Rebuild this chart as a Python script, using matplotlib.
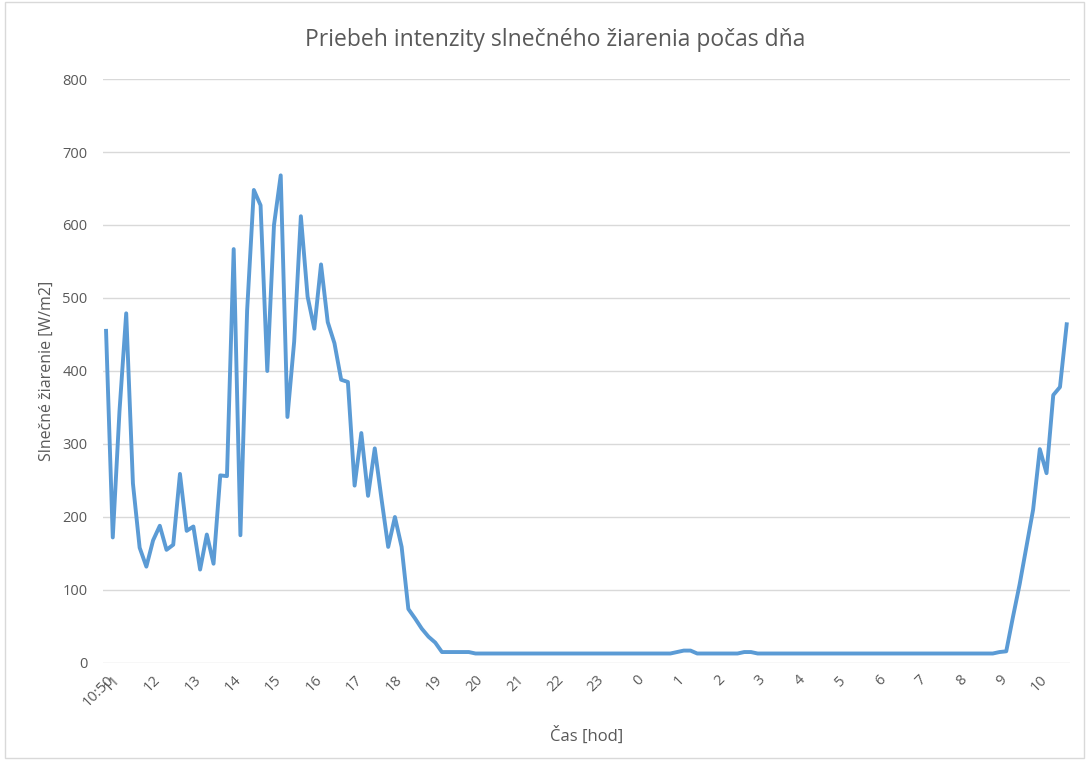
import matplotlib
matplotlib.use("Agg")
import matplotlib.pyplot as plt
from matplotlib.patches import Rectangle
import numpy as np

# ---- data (10-minute samples starting at 10:50) ----
start_hour = 10 + 50 / 60
step_hours = 10 / 60

irradiance = [
    455, 172, 345, 479, 246, 158, 132, 168, 188, 155,
    162, 259, 181, 187, 128, 176, 136, 257, 256, 567,
    175, 483, 648, 627, 400, 600, 668, 337, 440, 612,
    502, 458, 546, 467, 438, 388, 385, 243, 315, 229,
    294, 225, 159, 200, 159, 74, 61, 47, 36, 28,
    15, 15, 15, 15, 15, 13, 13, 13, 13, 13,
    13, 13, 13, 13, 13, 13, 13, 13, 13, 13,
    13, 13, 13, 13, 13, 13, 13, 13, 13, 13,
    13, 13, 13, 13, 13, 15, 17, 17, 13, 13,
    13, 13, 13, 13, 13, 15, 15, 13, 13, 13,
    13, 13, 13, 13, 13, 13, 13, 13, 13, 13,
    13, 13, 13, 13, 13, 13, 13, 13, 13, 13,
    13, 13, 13, 13, 13, 13, 13, 13, 13, 13,
    13, 13, 13, 15, 16, 63, 108, 159, 210, 293,
    260, 367, 378, 464,
]

tick_hours = [start_hour] + list(range(11, 35))
tick_labels = ["10:50"] + [str(h % 24) for h in range(11, 35)]

title = "Priebeh intenzity slnečného žiarenia počas dňa"
xlabel = "Čas [hod]"
ylabel = "Slnečné žiarenie [W/m2]"

# ---- styling ----
plt.rcParams['font.family'] = ['Open Sans', 'DejaVu Sans']
text_color = "#595959"
grid_color = "#d9d9d9"
line_color = "#5b9bd5"

fig = plt.figure(figsize=(10.89, 7.67), dpi=100)
ax = fig.add_axes([0.0943, 0.1356, 0.8883, 0.7614])

times = start_hour + step_hours * np.arange(len(irradiance))
ax.plot(times, irradiance, color=line_color, linewidth=2.8, solid_joinstyle="round")

ax.set_xlim(start_hour - step_hours / 2, times[-1] + step_hours / 2)
ax.set_ylim(0, 800)
ax.set_yticks(range(0, 801, 100))
ax.set_xticks(tick_hours)
ax.set_xticklabels(tick_labels, rotation=45, ha="right", va="top",
                   rotation_mode="anchor")

ax.grid(axis="y", color=grid_color, linewidth=1)
ax.set_axisbelow(True)
for s in ax.spines.values():
    s.set_visible(False)
ax.tick_params(axis="both", length=0, colors=text_color, labelsize=10.5)
ax.tick_params(axis="y", pad=11)
ax.tick_params(axis="x", pad=7)

fig.text(0.51, 0.948, title, fontsize=16.5, color=text_color,
         ha="center", va="center")
ax.set_xlabel(xlabel, fontsize=12, color=text_color, labelpad=12)
ax.set_ylabel(ylabel, fontsize=11.5, color=text_color, labelpad=5)

# chart border
fig.patches.append(Rectangle((0.005, 0.012), 0.99, 0.985, transform=fig.transFigure,
                             fill=False, edgecolor=grid_color, linewidth=1))

fig.savefig("out.png", dpi=100)
